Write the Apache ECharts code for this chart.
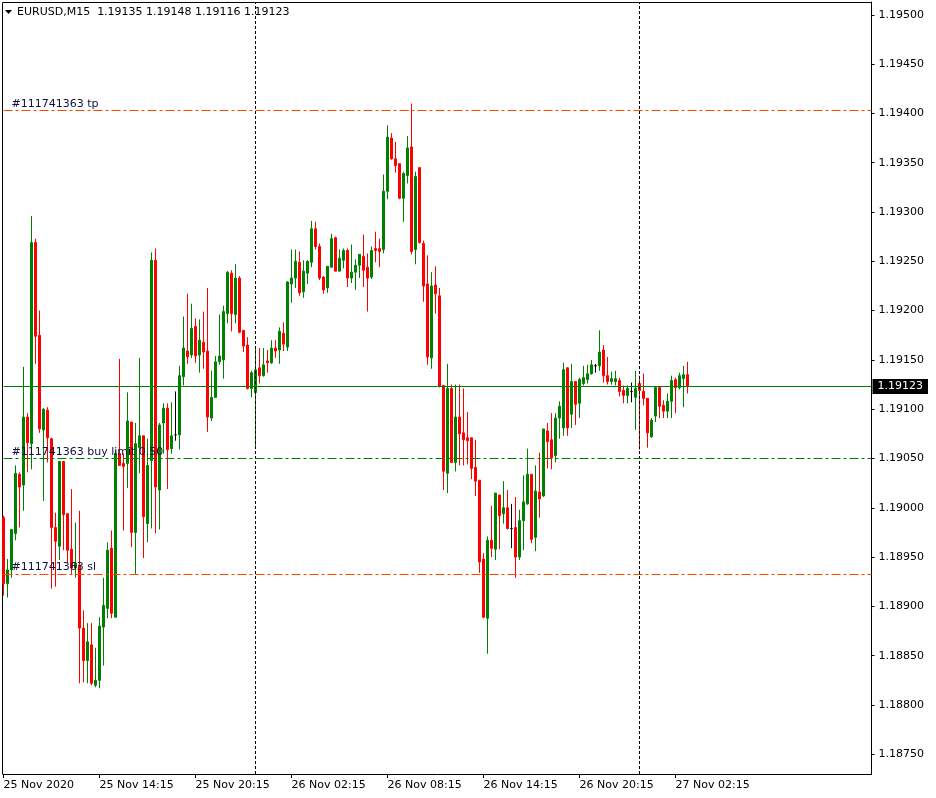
<!DOCTYPE html>
<html><head><meta charset="utf-8">
<script src="https://cdn.jsdelivr.net/npm/echarts@6/dist/echarts.min.js"></script>
<style>html,body{margin:0;padding:0;background:#fff}#c{width:936px;height:798px}</style>
</head><body><div id="c"></div>
<script>
const symbol = 'EURUSD,M15';
const open = [
1.18990,1.18923,1.18937,1.18974,1.19034,1.19023,1.19092,1.19065,1.19269,1.19175,
1.19079,1.19099,1.19070,1.18980,1.18961,1.19047,1.18994,1.18958,1.18939,1.18942,
1.18878,1.18845,1.18861,1.18820,1.18825,1.18879,1.18898,1.18959,1.18889,1.19055,
1.19045,1.19045,1.19087,1.18975,1.19061,1.19073,1.18984,1.19048,1.19251,1.19018,
1.19086,1.19101,1.19060,1.19074,1.19074,1.19133,1.19159,1.19155,1.19184,1.19155,
1.19168,1.19159,1.19091,1.19112,1.19148,1.19150,1.19197,1.19238,1.19196,1.19233,
1.19180,1.19165,1.19121,1.19117,1.19142,1.19134,1.19149,1.19147,1.19162,1.19160,
1.19177,1.19163,1.19227,1.19233,1.19249,1.19219,1.19238,1.19249,1.19283,1.19265,
1.19234,1.19223,1.19244,1.19274,1.19240,1.19251,1.19261,1.19233,1.19239,1.19246,
1.19255,1.19244,1.19234,1.19263,1.19263,1.19262,1.19321,1.19375,1.19354,1.19349,
1.19314,1.19337,1.19366,1.19262,1.19345,1.19268,1.19227,1.19152,1.19226,1.19215,
1.19124,1.19035,1.19121,1.19046,1.19092,1.19076,1.19071,1.19071,1.19041,1.19028,
1.18948,1.18888,1.18967,1.18958,1.19013,1.18994,1.19000,1.18979,1.18980,1.18950,
1.18987,1.19004,1.19034,1.18970,1.19016,1.19012,1.19078,1.19069,1.19053,1.19091,
1.19081,1.19142,1.19095,1.19128,1.19106,1.19126,1.19130,1.19136,1.19144,1.19144,
1.19160,1.19134,1.19128,1.19128,1.19129,1.19119,1.19114,1.19118,1.19112,1.19126,
1.19118,1.19111,1.19072,1.19093,1.19122,1.19104,1.19098,1.19108,1.19130,1.19122,
1.19131,1.19135];
const high = [
1.18992,1.18948,1.18978,1.19043,1.19036,1.19143,1.19096,1.19296,1.19273,1.19200,
1.19101,1.19102,1.19071,1.18995,1.19047,1.19047,1.18994,1.19019,1.18985,1.18997,
1.18896,1.18883,1.18883,1.18858,1.18889,1.18929,1.18965,1.18977,1.19058,1.19151,
1.19055,1.19117,1.19087,1.19086,1.19152,1.19073,1.19070,1.19259,1.19263,1.19086,
1.19106,1.19106,1.19107,1.19118,1.19144,1.19194,1.19217,1.19207,1.19192,1.19191,
1.19199,1.19223,1.19139,1.19154,1.19196,1.19205,1.19240,1.19241,1.19247,1.19235,
1.19180,1.19173,1.19139,1.19163,1.19162,1.19162,1.19160,1.19170,1.19170,1.19183,
1.19188,1.19230,1.19262,1.19262,1.19260,1.19251,1.19251,1.19291,1.19290,1.19268,
1.19235,1.19245,1.19278,1.19275,1.19262,1.19263,1.19263,1.19267,1.19252,1.19257,
1.19277,1.19258,1.19265,1.19280,1.19273,1.19338,1.19388,1.19380,1.19371,1.19349,
1.19341,1.19377,1.19410,1.19341,1.19345,1.19271,1.19256,1.19239,1.19245,1.19223,
1.19124,1.19146,1.19125,1.19125,1.19125,1.19121,1.19097,1.19071,1.19069,1.19028,
1.18954,1.18971,1.19002,1.19015,1.19013,1.19027,1.19018,1.19004,1.19011,1.18998,
1.19033,1.19060,1.19034,1.19043,1.19056,1.19080,1.19086,1.19096,1.19096,1.19108,
1.19147,1.19142,1.19146,1.19128,1.19132,1.19144,1.19145,1.19150,1.19146,1.19180,
1.19165,1.19153,1.19138,1.19139,1.19132,1.19124,1.19124,1.19127,1.19139,1.19134,
1.19136,1.19111,1.19091,1.19123,1.19122,1.19109,1.19116,1.19134,1.19132,1.19137,
1.19144,1.19148];
const low = [
1.18911,1.18909,1.18929,1.18967,1.18980,1.18997,1.19036,1.19039,1.19146,1.19076,
1.19007,1.19046,1.18918,1.18920,1.18947,1.18957,1.18944,1.18933,1.18929,1.18822,
1.18823,1.18822,1.18820,1.18818,1.18817,1.18840,1.18888,1.18888,1.18889,1.19043,
1.18977,1.19020,1.18960,1.18933,1.19035,1.18949,1.18965,1.18979,1.18974,1.18978,
1.19055,1.19019,1.19055,1.19068,1.19059,1.19124,1.19146,1.19152,1.19147,1.19137,
1.19141,1.19077,1.19088,1.19112,1.19145,1.19131,1.19187,1.19179,1.19187,1.19177,
1.19158,1.19120,1.19112,1.19060,1.19126,1.19133,1.19137,1.19146,1.19152,1.19146,
1.19159,1.19159,1.19208,1.19223,1.19215,1.19213,1.19227,1.19244,1.19262,1.19231,
1.19217,1.19218,1.19244,1.19240,1.19240,1.19243,1.19224,1.19228,1.19221,1.19233,
1.19224,1.19199,1.19232,1.19249,1.19244,1.19258,1.19313,1.19353,1.19340,1.19313,
1.19290,1.19329,1.19257,1.19247,1.19268,1.19209,1.19145,1.19141,1.19197,1.19122,
1.19018,1.19015,1.19046,1.19037,1.19043,1.19043,1.19044,1.19029,1.19012,1.18934,
1.18888,1.18852,1.18950,1.18947,1.18958,1.18984,1.18978,1.18959,1.18929,1.18947,
1.18957,1.19003,1.18964,1.18956,1.18990,1.19011,1.19040,1.19039,1.19046,1.19070,
1.19073,1.19073,1.19081,1.19084,1.19091,1.19124,1.19126,1.19135,1.19137,1.19139,
1.19127,1.19125,1.19125,1.19124,1.19113,1.19106,1.19106,1.19107,1.19079,1.19059,
1.19104,1.19061,1.19071,1.19087,1.19091,1.19091,1.19091,1.19091,1.19096,1.19120,
1.19102,1.19116];
const close = [
1.18923,1.18937,1.18978,1.19035,1.19021,1.19092,1.19066,1.19269,1.19174,1.19080,
1.19100,1.19071,1.18980,1.18966,1.19047,1.18993,1.18957,1.18939,1.18944,1.18878,
1.18845,1.18864,1.18822,1.18825,1.18880,1.18901,1.18957,1.18893,1.19055,1.19043,
1.19042,1.19088,1.18975,1.19065,1.19073,1.18991,1.19043,1.19251,1.19021,1.19084,
1.19101,1.19059,1.19073,1.19074,1.19134,1.19162,1.19153,1.19182,1.19154,1.19170,
1.19158,1.19092,1.19112,1.19148,1.19154,1.19199,1.19239,1.19197,1.19233,1.19178,
1.19164,1.19121,1.19137,1.19140,1.19134,1.19145,1.19147,1.19162,1.19159,1.19179,
1.19166,1.19229,1.19233,1.19250,1.19218,1.19240,1.19250,1.19283,1.19265,1.19233,
1.19221,1.19245,1.19273,1.19240,1.19253,1.19261,1.19233,1.19239,1.19246,1.19257,
1.19241,1.19233,1.19261,1.19261,1.19260,1.19321,1.19376,1.19354,1.19347,1.19314,
1.19339,1.19365,1.19260,1.19336,1.19269,1.19225,1.19153,1.19225,1.19217,1.19123,
1.19037,1.19121,1.19046,1.19092,1.19075,1.19069,1.19068,1.19040,1.19027,1.18945,
1.18889,1.18967,1.18959,1.19015,1.18992,1.19000,1.18979,1.18979,1.18950,1.18987,
1.19006,1.19034,1.18968,1.19017,1.19009,1.19080,1.19067,1.19051,1.19091,1.19103,
1.19140,1.19081,1.19128,1.19105,1.19130,1.19132,1.19136,1.19145,1.19144,1.19158,
1.19134,1.19128,1.19131,1.19131,1.19118,1.19114,1.19121,1.19118,1.19121,1.19119,
1.19111,1.19076,1.19089,1.19122,1.19103,1.19098,1.19108,1.19129,1.19122,1.19134,
1.19135,1.19123];
const tickIndex = [0, 24, 48, 72, 96, 120, 144, 168];
const tickLabels = ['25 Nov 2020','25 Nov 14:15','25 Nov 20:15','26 Nov 02:15','26 Nov 08:15','26 Nov 14:15','26 Nov 20:15','27 Nov 02:15'];
const priceTicks = [1.18750,1.18800,1.18850,1.18900,1.18950,1.19000,1.19050,1.19100,1.19150,1.19200,1.19250,1.19300,1.19350,1.19400,1.19450,1.19500];
const separatorIndex = [63, 159];
const orderTicket = '#111741363';
const tpPrice = 1.19403, limitPrice = 1.19050, slPrice = 1.18933, limitLots = '0.50';
const yMin = 1.18730, yMax = 1.19513;
const SLOTS = 218;

const FONT = 'DejaVu Sans';
const categories = Array.from({length: SLOTS}, (_, i) => String(i));
const bid = close[close.length - 1];
const candleData = open.map((o, i) => {
  const v = [o, close[i], low[i], high[i]];
  if (o === close[i]) return {value: v, itemStyle: {color:'#000', color0:'#000', borderColor:'#000', borderColor0:'#000'}};
  return v;
});
const last = open.length - 1;
const header = symbol + '  ' + [open[last], high[last], low[last], close[last]].map(v => v.toFixed(5)).join(' ');

const chart = echarts.init(document.getElementById('c'), null, {renderer: 'canvas'});
const orderLabel = (txt) => ({show: true, position: 'insideStartTop', distance: [8, 1], formatter: txt,
  color: '#10103a', fontFamily: FONT, fontSize: 11});
chart.setOption({
  animation: false,
  backgroundColor: '#fff',
  grid: {left: 3.5, top: 2, width: 868, height: 772, show: false, containLabel: false, outerBoundsMode: 'none'},
  xAxis: {
    type: 'category', data: categories, boundaryGap: false,
    axisLine: {show: true, lineStyle: {color: '#000', width: 1}},
    axisTick: {show: true, length: 4, interval: (i) => tickIndex.includes(i), lineStyle: {color: '#000'}},
    axisLabel: {show: true, interval: (i) => tickIndex.includes(i), align: 'left', margin: 6,
      formatter: (v, i) => tickLabels[tickIndex.indexOf(Number(v))] || '',
      color: '#000', fontFamily: FONT, fontSize: 11},
    splitLine: {show: false}
  },
  yAxis: {
    type: 'value', position: 'right', min: yMin, max: yMax, scale: true,
    axisLine: {show: true, lineStyle: {color: '#000', width: 1}},
    axisTick: {show: true, length: 3, customValues: priceTicks, lineStyle: {color: '#000'}},
    axisLabel: {show: true, customValues: priceTicks, margin: 7, formatter: (v) => Number(v).toFixed(5),
      color: '#000', fontFamily: FONT, fontSize: 11},
    splitLine: {show: false}
  },
  graphic: [
    {type: 'line', shape: {x1: 2.5, y1: 2.5, x2: 2.5, y2: 774.5}, style: {stroke: '#000', lineWidth: 1}, silent: true},
    {type: 'line', shape: {x1: 2.5, y1: 2.5, x2: 871.5, y2: 2.5}, style: {stroke: '#000', lineWidth: 1}, silent: true},
    {type: 'polygon', shape: {points: [[5, 10], [12, 10], [8.5, 14]]}, style: {fill: '#000'}, silent: true},
    {type: 'text', left: 17, top: 7, style: {text: header, fill: '#000', font: '11px "DejaVu Sans"'}, silent: true}
  ],
  series: [
    {
      type: 'line', data: [], z: 1, silent: true,
      markLine: {
        silent: true, symbol: ['none', 'none'], animation: false, precision: 5,
        data: [
          {xAxis: categories[separatorIndex[0]], lineStyle: {color: '#000', type: [3, 2], width: 1}, label: {show: false}},
          {xAxis: categories[separatorIndex[1]], lineStyle: {color: '#000', type: [3, 2], width: 1}, label: {show: false}},
          {yAxis: tpPrice, lineStyle: {color: '#ff4500', type: [9, 3, 3, 3], width: 1}, label: orderLabel(orderTicket + ' tp')},
          {yAxis: limitPrice, lineStyle: {color: '#008000', type: [9, 3, 3, 3], width: 1}, label: orderLabel(orderTicket + ' buy limit ' + limitLots)},
          {yAxis: slPrice, lineStyle: {color: '#ff4500', type: [9, 3, 3, 3], width: 1}, label: orderLabel(orderTicket + ' sl')}
        ]
      }
    },
    {
      type: 'candlestick', data: candleData, z: 3, barWidth: 2,
      itemStyle: {color: '#008000', color0: '#ff0000', borderColor: '#008000', borderColor0: '#ff0000', borderWidth: 1},
      markLine: {
        silent: true, symbol: ['none', 'none'], animation: false, precision: 5,
        data: [{yAxis: bid, lineStyle: {color: '#008000', type: 'solid', width: 1},
          label: {show: true, position: 'end', distance: 1, formatter: bid.toFixed(5), color: '#fff',
            backgroundColor: '#000', padding: [2, 5, 2, 5], fontFamily: FONT, fontSize: 11}}]
      }
    }
  ]
});
</script></body></html>
